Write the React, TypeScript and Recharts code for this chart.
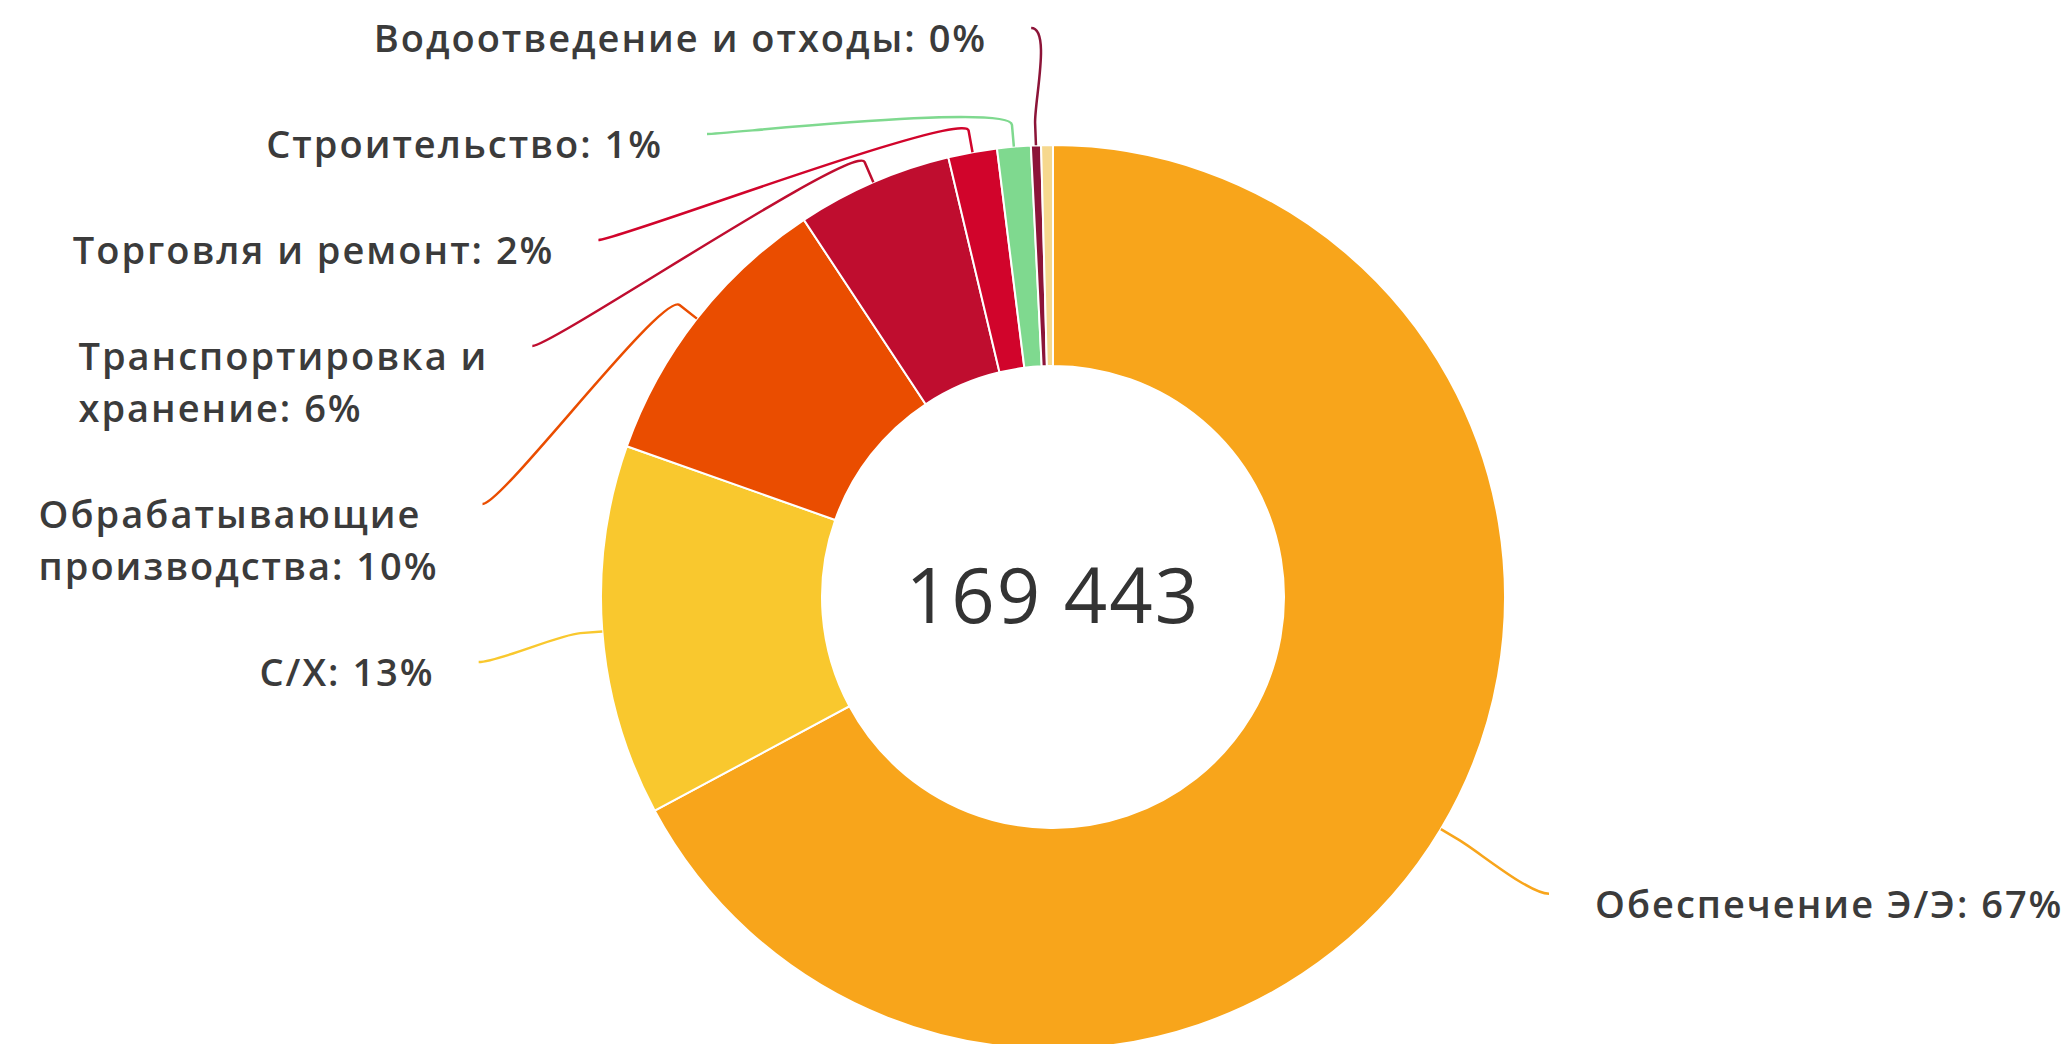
import React from "react";
import { PieChart, Pie, Cell } from "recharts";

// Структура по отраслям (сумма = 169 443)
const categories = [
  "Обеспечение Э/Э",
  "С/Х",
  "Обрабатывающие производства",
  "Транспортировка и хранение",
  "Торговля и ремонт",
  "Строительство",
  "Водоотведение и отходы",
  "Прочее",
];
const values = [113800, 22450, 17450, 9440, 2950, 2030, 610, 713];
const colors = ["#f8a51b", "#f9c82e", "#ea4d00", "#bf0d2f", "#d1042b", "#7fd98f", "#8c1438", "#f6d88e"];
// последняя подпись скрыта (в оригинале ей не хватило места)
const showLabel = [true, true, true, true, true, true, true, false];

const W = 2071;
const H = 1044;
const CX = 1053;
const CY = 597;
const R_OUT = 452;
const R_IN = 231;
const LABEL_DIST = 126;
const BREAK = 22;
const FONT = '"Open Sans", "DejaVu Sans", sans-serif';
const LABEL_SIZE = 38;
const LABEL_WEIGHT = 600;
const LETTER_SP = 2;
const LINE_H = 52;
const SLOT_GAP = 54;
const TEXT_PAD = 46;
const LABEL_TOP = 28;
const SIDE_MARGIN = 0;

const data = categories.map((name, i) => ({ name, value: values[i] }));
const total = values.reduce((a, b) => a + b, 0);
const totalText = String(total).replace(/\B(?=(\d{3})+(?!\d))/g, " ");

let ctx: CanvasRenderingContext2D | null = null;
function textWidth(s: string) {
  if (!ctx) ctx = document.createElement("canvas").getContext("2d");
  if (!ctx) return s.length * LABEL_SIZE * 0.66;
  ctx.font = `${LABEL_WEIGHT} ${LABEL_SIZE}px ${FONT}`;
  return ctx.measureText(s).width + (s.length - 1) * LETTER_SP;
}

function wrap(s: string, maxW: number) {
  const words = s.split(" ");
  const lines: string[] = [];
  let cur = "";
  for (const w of words) {
    const next = cur ? cur + " " + w : w;
    if (cur && textWidth(next) > maxW) {
      lines.push(cur);
      cur = w;
    } else cur = next;
  }
  if (cur) lines.push(cur);
  return lines;
}

type LabelPos = { x: number; y: number; left: boolean; lines: string[] };

// раскладка подписей в стиле highcharts: точка на окружности R, сдвиг вниз при наложении
function layoutLabels(): (LabelPos | null)[] {
  const R = R_OUT + LABEL_DIST;
  let cum = 0;
  const nat = values.map((v) => {
    const th = ((cum + v / 2) / total) * 2 * Math.PI;
    cum += v;
    return { x: CX + R * Math.sin(th), y: CY - R * Math.cos(th), left: Math.sin(th) < 0 };
  });
  const texts = categories.map((c, i) => `${c}: ${Math.round((values[i] / total) * 100)}%`);
  const lineCount = values.map(() => 1);
  const out: (LabelPos | null)[] = values.map(() => null);
  const getX = (y: number, left: boolean) => {
    const d = Math.max(-1, Math.min(1, (y - CY) / R));
    return CX + (left ? -1 : 1) * Math.cos(Math.asin(d)) * R;
  };
  for (let pass = 0; pass < 2; pass++) {
    for (const side of [true, false]) {
      const idx = values
        .map((_, i) => i)
        .filter((i) => showLabel[i] && nat[i].left === side)
        .sort((a, b) => nat[a].y - nat[b].y);
      let prev = -Infinity;
      let prevSlot = 0;
      idx.forEach((i, k) => {
        const y = k === 0 ? Math.max(nat[i].y, LABEL_TOP) : Math.max(nat[i].y, prev + prevSlot);
        const x = k === 0 && nat[i].y < LABEL_TOP ? nat[i].x : getX(y, side);
        const avail = side ? x - TEXT_PAD - SIDE_MARGIN : W - SIDE_MARGIN - (x + TEXT_PAD);
        const lines = wrap(texts[i], avail);
        if (pass === 0) lineCount[i] = lines.length;
        prev = y;
        prevSlot = lineCount[i] * LINE_H + SLOT_GAP;
        out[i] = { x, y, left: side, lines };
      });
    }
  }
  return out;
}

const labelPos = layoutLabels();
const RAD = Math.PI / 180;

function SliceLabel(props: any) {
  const i: number = props.index ?? categories.indexOf(props.name);
  const p = labelPos[i];
  const center =
    i === 0 ? (
      <text
        x={props.cx}
        y={props.cy - 4}
        textAnchor="middle"
        dominantBaseline="central"
        fontFamily={FONT}
        fontSize={76}
        letterSpacing={2}
        fill="#333333"
      >
        {totalText}
      </text>
    ) : null;
  if (!p) return center;
  const a = -props.midAngle * RAD;
  const tx = props.cx + props.outerRadius * Math.cos(a);
  const ty = props.cy + props.outerRadius * Math.sin(a);
  const bx = props.cx + (props.outerRadius + BREAK) * Math.cos(a);
  const by = props.cy + (props.outerRadius + BREAK) * Math.sin(a);
  const c1x = p.x + (p.left ? 20 : -20);
  const d = `M${p.x},${p.y} C${c1x},${p.y} ${2 * bx - tx},${2 * by - ty} ${bx},${by} L${tx},${ty}`;
  // блок подписи прижат к точке коннектора, строки внутри выровнены влево
  const boxW = Math.max(...p.lines.map(textWidth));
  const boxLeft = p.left ? p.x - TEXT_PAD - boxW : p.x + TEXT_PAD;
  return (
    <g>
      {center}
      <path d={d} fill="none" stroke={colors[i]} strokeWidth={2.5} />
      {p.lines.map((ln, k) => (
        <text
          key={k}
          x={boxLeft}
          y={p.y + 9 + k * LINE_H}
          textAnchor="start"
          dominantBaseline="central"
          fontFamily={FONT}
          fontSize={LABEL_SIZE}
          fontWeight={LABEL_WEIGHT}
          letterSpacing={LETTER_SP}
          fill="#3b3b3b"
        >
          {ln}
        </text>
      ))}
    </g>
  );
}

export default function App() {
  return (
    <div style={{ position: "absolute", left: 0, top: 0, width: W, height: H, background: "#fff" }}>
      <PieChart width={W} height={H} margin={{ top: 0, right: 0, bottom: 0, left: 0 }}>
        <Pie
          data={data}
          dataKey="value"
          nameKey="name"
          cx={CX}
          cy={CY}
          innerRadius={R_IN}
          outerRadius={R_OUT}
          startAngle={90}
          endAngle={-270}
          stroke="#ffffff"
          strokeWidth={2}
          labelLine={false}
          label={SliceLabel}
          isAnimationActive={false}
        >
          {data.map((d, i) => (
            <Cell key={d.name} fill={colors[i]} />
          ))}
        </Pie>
      </PieChart>
    </div>
  );
}
